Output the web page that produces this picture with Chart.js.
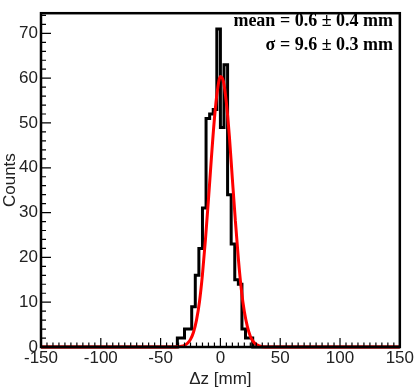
<!DOCTYPE html>
<html>
<head>
<meta charset="utf-8">
<script src="https://cdn.jsdelivr.net/npm/chart.js@4"></script>
<style>
  html, body { margin: 0; padding: 0; background: #fff; }
  #wrap { width: 415px; height: 390px; position: relative; }
</style>
</head>
<body>
<div id="wrap"><canvas id="histChart"></canvas></div>
<script>
// histogram: 3 mm bins, counts from -36 mm to +36 mm (everything else is 0)
var binStart = -36;
var binWidth = 3;
var counts = [0, 2, 2, 4, 4, 9, 16, 22, 31, 51, 52, 53,
              71, 49, 63, 34, 23, 15, 14, 4, 2, 2, 0, 0];

// gaussian fit curve
var fitX = [-150, -40, -35, -32.5, -30, -27.5, -25, -22.5, -20, -17.5, -15, -12.5, -10, -7.5, -5, -2.5,
            0, 2.5, 5, 7.5, 10, 12.5, 15, 17.5, 20, 22.5, 25, 27.5, 30, 32.5, 35, 40, 150];
var fitY = [0, 0, 0.05, 0.15, 0.37, 0.83, 1.7, 3.3, 6.0, 10.1, 16.2, 24.0, 32.9, 42.3, 51.0, 57.3,
            60.4, 59.3, 54.5, 47.0, 37.5, 28.2, 19.7, 12.8, 7.9, 4.6, 2.4, 1.2, 0.55, 0.23, 0.08, 0, 0];

var xTicks = [-150, -100, -50, 0, 50, 100, 150];
var yTicks = [0, 10, 20, 30, 40, 50, 60, 70];
var statLines = ['mean = 0.6 \u00b1 0.4 mm', '\u03c3 = 9.6 \u00b1 0.3 mm'];

//-------------
var histPoints = [{x: -150, y: 0}];
for (var i = 0; i < counts.length; i++) {
  histPoints.push({x: binStart + i * binWidth, y: counts[i]});
}
histPoints.push({x: binStart + counts.length * binWidth, y: 0});
histPoints.push({x: 150, y: 0});

var fitPoints = fitX.map(function (x, i) { return {x: x, y: fitY[i]}; });

var frameAndTicks = {
  id: 'frameAndTicks',
  afterDatasetsDraw: function (chart) {
    var ctx = chart.ctx;
    var a = chart.chartArea;
    var xs = chart.scales.x, ys = chart.scales.y;
    ctx.save();
    ctx.strokeStyle = '#000';
    ctx.lineWidth = 1.2;
    ctx.beginPath();
    for (var v = -150; v <= 150; v += 5) {
      var px = xs.getPixelForValue(v);
      var len = (v % 50 === 0) ? 9 : 4.5;
      ctx.moveTo(px, a.bottom);
      ctx.lineTo(px, a.bottom - len);
    }
    for (var w = 0; w <= 74; w += 2) {
      var py = ys.getPixelForValue(w);
      var l2 = (w % 10 === 0) ? 10 : 5;
      ctx.moveTo(a.left, py);
      ctx.lineTo(a.left + l2, py);
    }
    ctx.stroke();
    ctx.lineWidth = 2.5;
    ctx.strokeRect(a.left, a.top, a.right - a.left, a.bottom - a.top);

    ctx.fillStyle = '#000';
    ctx.font = 'bold 18px "Liberation Serif"';
    ctx.textAlign = 'right';
    ctx.textBaseline = 'middle';
    ctx.fillText(statLines[0], 393, 21);
    ctx.fillText(statLines[1], 393, 45);
    ctx.restore();
  }
};

var tickFont = {family: 'Liberation Sans', size: 17};

new Chart(document.getElementById('histChart').getContext('2d'), {
  type: 'line',
  data: {
    datasets: [{
        label: 'fit',
        data: fitPoints,
        borderColor: '#ff0000',
        borderWidth: 3,
        pointRadius: 0,
        cubicInterpolationMode: 'monotone',
        fill: false,
        clip: 4,
        order: 0
      },
      {
        label: 'hist',
        data: histPoints,
        borderColor: '#000',
        borderWidth: 3,
        pointRadius: 0,
        stepped: 'after',
        fill: false,
        clip: 4,
        order: 1
      }
    ]
  },
  options: {
    responsive: true,
    maintainAspectRatio: false,
    animation: false,
    layout: {padding: {left: 0, right: 15, top: 2, bottom: 0}},
    plugins: {legend: {display: false}, tooltip: {enabled: false}},
    scales: {
      x: {
        type: 'linear',
        min: -150,
        max: 150,
        grid: {display: false, drawTicks: false},
        border: {display: false},
        afterBuildTicks: function (s) { s.ticks = xTicks.map(function (v) { return {value: v}; }); },
        afterFit: function (s) { s.height = 43; },
        ticks: {font: tickFont, color: '#222', padding: 1, maxRotation: 0, autoSkip: false},
        title: {display: true, text: '\u0394z [mm]', font: tickFont, color: '#222', padding: {top: -4, bottom: 0}}
      },
      y: {
        type: 'linear',
        min: 0,
        max: 74.5,
        grid: {display: false, drawTicks: false},
        border: {display: false},
        afterBuildTicks: function (s) { s.ticks = yTicks.map(function (v) { return {value: v}; }); },
        afterFit: function (s) { s.width = 41; },
        ticks: {font: tickFont, color: '#222', padding: 3, autoSkip: false},
        title: {display: true, text: 'Counts', font: tickFont, color: '#222', padding: {top: 0, bottom: 0}}
      }
    }
  },
  plugins: [frameAndTicks]
});
</script>
</body>
</html>
